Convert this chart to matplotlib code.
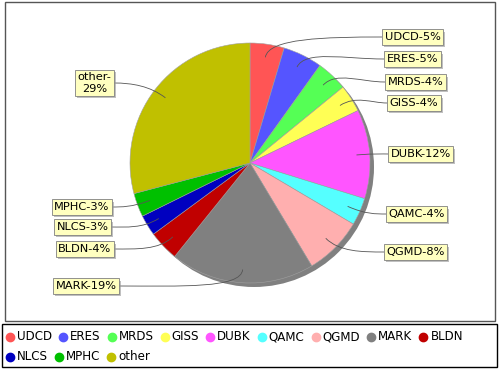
import matplotlib
matplotlib.use('Agg')
import matplotlib.pyplot as plt
import matplotlib.patheffects as pe
from matplotlib.path import Path
from matplotlib.patches import PathPatch, Rectangle, Circle
import numpy as np

# ---- data ----
categories = ['UDCD', 'ERES', 'MRDS', 'GISS', 'DUBK', 'QAMC', 'QGMD',
              'MARK', 'BLDN', 'NLCS', 'MPHC', 'other']
values = [4.6, 5.3, 4.2, 3.7, 12.0, 3.7, 7.9, 19.4, 4.1, 2.8, 3.2, 29.1]
pie_labels = ['UDCD-5%', 'ERES-5%', 'MRDS-4%', 'GISS-4%', 'DUBK-12%', 'QAMC-4%',
              'QGMD-8%', 'MARK-19%', 'BLDN-4%', 'NLCS-3%', 'MPHC-3%', 'other-\n29%']
colors = ['#FF5555', '#5555FF', '#55FF55', '#FFFF55', '#FF55FF', '#55FFFF',
          '#FFAFAF', '#808080', '#C00000', '#0000C0', '#00C000', '#C0C000']

# ---- layout (pixel coords, y measured from top) ----
W, H = 500, 370
CX, CY, R = 250, 163, 120
# label box edge x (left edge on right side, right edge on left side), centre y, side
label_layout = [(382, 37, 'R'), (384, 59, 'R'), (385, 82, 'R'), (387, 103, 'R'),
                (388, 154, 'R'), (386, 214, 'R'), (384, 252, 'R'),
                (119, 286, 'L'), (114, 249, 'L'), (111, 227, 'L'),
                (112, 207, 'L'), (114, 83, 'L')]

def Y(yp):
    return H - yp

fig = plt.figure(figsize=(W / 100, H / 100), dpi=100)
ax = fig.add_axes([0, 0, 1, 1])

# shadow
ax.add_patch(Circle((CX + 4, Y(CY) - 4), R, facecolor='#808080', edgecolor='none', zorder=0))

wedges, _ = ax.pie(values, colors=colors, startangle=90, counterclock=False,
                   center=(CX, Y(CY)), radius=R, frame=False,
                   wedgeprops=dict(edgecolor='#a0a0a0', linewidth=0.4))
for w in wedges:
    w.set_zorder(1)

ax.set_xlim(0, W)
ax.set_ylim(0, H)
ax.set_aspect('equal')
ax.axis('off')

# plot border and legend border
ax.add_patch(Rectangle((5, Y(321)), 490, 319, fill=False, edgecolor='#555555', linewidth=1, zorder=5))
ax.add_patch(Rectangle((2, Y(367)), 495, 43, fill=False, edgecolor='black', linewidth=1, zorder=5))

# labels with leader curves
total = sum(values)
cum = 0.0
pad = 2.5
for v, lab, (lx, ly, side) in zip(values, pie_labels, label_layout):
    mid = (cum + v / 2) / total * 360.0
    cum += v
    a = np.deg2rad(90 - mid)
    ax_x = CX + 0.89 * R * np.cos(a)
    ax_y = Y(CY) + 0.89 * R * np.sin(a)
    el_x = CX + 1.05 * R * np.cos(a)
    el_y = Y(CY) + 1.05 * R * np.sin(a)
    tx, ty = lx, Y(ly)
    dx = abs(tx - el_x)
    p2x = tx - 0.5 * dx if side == 'R' else tx + 0.5 * dx
    path = Path([(ax_x, ax_y), (el_x, el_y), (p2x, ty), (tx, ty)],
                [Path.MOVETO, Path.CURVE4, Path.CURVE4, Path.CURVE4])
    ax.add_patch(PathPatch(path, fill=False, edgecolor='#555555', linewidth=0.6, zorder=3))
    if side == 'R':
        t = ax.text(tx + pad, ty, lab, ha='left', va='center', fontsize=8.2,
                    multialignment='center', zorder=6,
                    bbox=dict(boxstyle='square,pad=0.22', fc='#FFFFC0', ec='#808080', lw=0.6))
    else:
        t = ax.text(tx - pad, ty, lab, ha='right', va='center', fontsize=8.2,
                    multialignment='center', zorder=6,
                    bbox=dict(boxstyle='square,pad=0.22', fc='#FFFFC0', ec='#808080', lw=0.6))
    t.get_bbox_patch().set_path_effects([
        pe.withSimplePatchShadow(offset=(1.5, -1.5), shadow_rgbFace='#979797', alpha=0.6)])

# legend (flow layout)
renderer = fig.canvas.get_renderer()
x = 10
row_y = [337, 357]
row = 0
for cat, col in zip(categories, colors):
    t = ax.text(0, 0, cat, fontsize=8.6, va='center', ha='left')
    w = t.get_window_extent(renderer).width
    if x + 7 + w > 490:
        row += 1
        x = 10
    t.set_position((x + 7, Y(row_y[row])))
    ax.plot([x], [Y(row_y[row])], marker='o', markersize=6, color=col,
            markeredgecolor=col, linestyle='none', zorder=6)
    x = x + 7 + w + 11

fig.savefig('out.png', dpi=100)
